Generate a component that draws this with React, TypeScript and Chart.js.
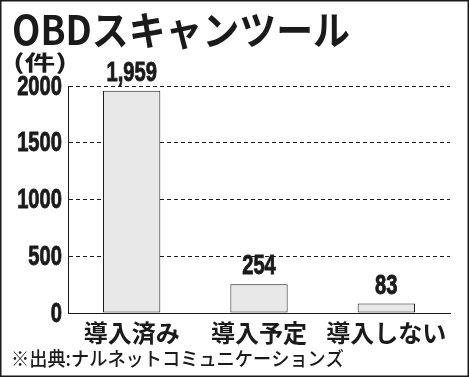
import React, { useEffect, useRef } from "react";
import { Chart, registerables } from "chart.js";

Chart.register(...registerables);

const TITLE = "OBDスキャンツール";
const UNIT = "(件)";
const SOURCE = "※出典:ナルネットコミュニケーションズ";
const categories = ["導入済み", "導入予定", "導入しない"];
const values = [1959, 254, 83];
const valueLabels = ["1,959", "254", "83"];
const yTicks = [0, 500, 1000, 1500, 2000];
const yTickLabels = ["0", "500", "1000", "1500", "2000"];

const W = 470;
const H = 377;
const NUM_FONT = "'Liberation Sans', Arial, sans-serif";
const JP_FONT = "'Noto Sans CJK JP', sans-serif";
const INK = "#1a1a1a";
const NUM_SQUEEZE = 0.72;

function fitText(ctx: CanvasRenderingContext2D, text: string, x: number, y: number, targetW: number) {
  const w = ctx.measureText(text).width;
  const s = targetW / w;
  ctx.save();
  ctx.translate(x, y);
  ctx.scale(s, 1);
  ctx.textAlign = "left";
  ctx.fillText(text, 0, 0);
  ctx.restore();
}

function squeezeText(
  ctx: CanvasRenderingContext2D,
  text: string,
  x: number,
  y: number,
  align: "left" | "right" | "center",
  s: number
) {
  ctx.save();
  ctx.translate(x, y);
  ctx.scale(s, 1);
  ctx.textAlign = align;
  ctx.lineWidth = 0.9;
  ctx.strokeStyle = INK;
  ctx.strokeText(text, 0, 0);
  ctx.fillText(text, 0, 0);
  ctx.restore();
}

const decorPlugin = {
  id: "decor",
  afterDraw(chart: any) {
    const ctx: CanvasRenderingContext2D = chart.ctx;
    ctx.save();
    ctx.fillStyle = INK;
    ctx.textBaseline = "alphabetic";
    // title
    ctx.font = `bold 40px ${JP_FONT}`;
    fitText(ctx, TITLE, 12, 45, 338);
    // unit
    ctx.font = `bold 21px ${JP_FONT}`;
    fitText(ctx, UNIT, 13, 70, 54);
    // source
    ctx.font = `500 19px ${JP_FONT}`;
    fitText(ctx, SOURCE, 11, 366, 333);
    // y tick labels (from the library's y scale)
    const yScale = chart.scales.y;
    ctx.font = `bold 28px ${NUM_FONT}`;
    ctx.textBaseline = "middle";
    yScale.ticks.forEach((t: any, i: number) => {
      const py = yScale.getPixelForValue(t.value);
      squeezeText(ctx, yTickLabels[i], 62, py + 1, "right", NUM_SQUEEZE);
    });
    // value labels
    ctx.textBaseline = "alphabetic";
    const meta = chart.getDatasetMeta(0);
    meta.data.forEach((bar: any, i: number) => {
      squeezeText(ctx, valueLabels[i], bar.x, bar.y - 10, "center", NUM_SQUEEZE);
    });
    // frame
    ctx.strokeStyle = INK;
    ctx.lineWidth = 1.5;
    ctx.strokeRect(0.75, 0.75, 467.5, 375.5);
    ctx.restore();
  },
};

export default function App() {
  const ref = useRef<HTMLCanvasElement>(null);
  useEffect(() => {
    document.body.style.margin = "0";
    const canvas = ref.current!;
    const chart = new Chart(canvas, {
      type: "bar",
      data: {
        labels: categories,
        datasets: [
          {
            data: values,
            backgroundColor: "#e8e8e8",
            borderColor: INK,
            borderWidth: 1,
            borderSkipped: false,
            categoryPercentage: 1,
            barPercentage: 0.45,
          },
        ],
      },
      options: {
        responsive: false,
        animation: false,
        devicePixelRatio: 1,
        layout: { padding: { top: 86, right: 20, left: 0, bottom: 0 } },
        plugins: {
          legend: { display: false },
          tooltip: { enabled: false },
          title: { display: false },
        },
        scales: {
          x: {
            grid: { display: false, drawTicks: false },
            border: { display: true, color: INK, width: 1 },
            ticks: {
              color: INK,
              padding: 5,
              font: { family: JP_FONT, size: 24, weight: "bold" },
              maxRotation: 0,
              autoSkip: false,
            },
            afterFit(scale: any) {
              scale.height = 64;
            },
          },
          y: {
            min: 0,
            max: 2000,
            afterBuildTicks(scale: any) {
              scale.ticks = yTicks.map((v) => ({ value: v }));
            },
            grid: { color: INK, lineWidth: 1, drawTicks: false },
            border: { display: true, color: INK, width: 1, dash: [4, 3] },
            ticks: { display: false },
            afterFit(scale: any) {
              scale.width = 68;
            },
          },
        },
      },
      plugins: [decorPlugin],
    });
    return () => chart.destroy();
  }, []);
  return (
    <div style={{ position: "absolute", left: 0, top: 0, width: W, height: H, background: "#fff" }}>
      <canvas ref={ref} width={W} height={H} style={{ display: "block" }} />
    </div>
  );
}
